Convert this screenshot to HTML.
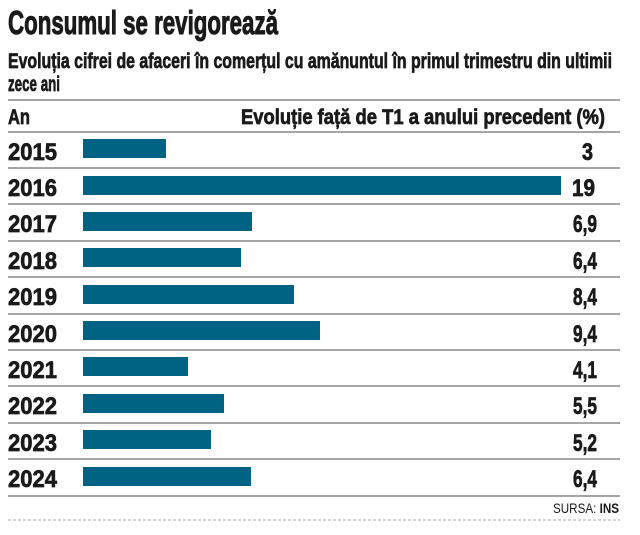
<!DOCTYPE html><html><head><style>body{margin:0;background:#fff}</style></head><body>
<svg width="640" height="530" xmlns="http://www.w3.org/2000/svg" font-family="Liberation Sans, sans-serif" font-weight="bold" fill="#1a1a1a">
<g stroke="#1a1a1a" stroke-width="0.7">
<text x="8" y="34" font-size="33" stroke-width="1" textLength="270" lengthAdjust="spacingAndGlyphs">Consumul se revigorează</text>
<text x="8" y="68" font-size="21" textLength="604" lengthAdjust="spacingAndGlyphs">Evoluția cifrei de afaceri în comerțul cu amănuntul în primul trimestru din ultimii</text>
<text x="8" y="91" font-size="21" textLength="52" lengthAdjust="spacingAndGlyphs">zece ani</text>
<text x="8" y="124" font-size="21" textLength="22" lengthAdjust="spacingAndGlyphs">An</text>
<text x="605" y="124" font-size="21" text-anchor="end" textLength="364" lengthAdjust="spacingAndGlyphs">Evoluție față de T1 a anului precedent (%)</text>
<g font-size="24">
<text x="8" y="160" textLength="49" lengthAdjust="spacingAndGlyphs">2015</text>
<text x="8" y="196" textLength="49" lengthAdjust="spacingAndGlyphs">2016</text>
<text x="8" y="232" textLength="49" lengthAdjust="spacingAndGlyphs">2017</text>
<text x="8" y="269" textLength="49" lengthAdjust="spacingAndGlyphs">2018</text>
<text x="8" y="305" textLength="49" lengthAdjust="spacingAndGlyphs">2019</text>
<text x="8" y="342" textLength="49" lengthAdjust="spacingAndGlyphs">2020</text>
<text x="8" y="378" textLength="49" lengthAdjust="spacingAndGlyphs">2021</text>
<text x="8" y="414" textLength="49" lengthAdjust="spacingAndGlyphs">2022</text>
<text x="8" y="451" textLength="49" lengthAdjust="spacingAndGlyphs">2023</text>
<text x="8" y="487" textLength="49" lengthAdjust="spacingAndGlyphs">2024</text>
<text x="582" y="160" textLength="11" lengthAdjust="spacingAndGlyphs">3</text>
<text x="572" y="196" textLength="23" lengthAdjust="spacingAndGlyphs">19</text>
<text x="573" y="232" textLength="24" lengthAdjust="spacingAndGlyphs">6,9</text>
<text x="573" y="269" textLength="24" lengthAdjust="spacingAndGlyphs">6,4</text>
<text x="573" y="305" textLength="24" lengthAdjust="spacingAndGlyphs">8,4</text>
<text x="573" y="342" textLength="24" lengthAdjust="spacingAndGlyphs">9,4</text>
<text x="573" y="378" textLength="24" lengthAdjust="spacingAndGlyphs">4,1</text>
<text x="573" y="414" textLength="24" lengthAdjust="spacingAndGlyphs">5,5</text>
<text x="573" y="451" textLength="24" lengthAdjust="spacingAndGlyphs">5,2</text>
<text x="573" y="487" textLength="24" lengthAdjust="spacingAndGlyphs">6,4</text>
</g>
</g>
<g stroke="#888" stroke-width="1.5">
<line x1="8" x2="620" y1="100" y2="100"/><line x1="8" x2="620" y1="132" y2="132"/>
<line x1="8" x2="620" y1="168" y2="168"/><line x1="8" x2="620" y1="204" y2="204"/>
<line x1="8" x2="620" y1="241" y2="241"/><line x1="8" x2="620" y1="277" y2="277"/>
<line x1="8" x2="620" y1="314" y2="314"/><line x1="8" x2="620" y1="350" y2="350"/>
<line x1="8" x2="620" y1="386" y2="386"/><line x1="8" x2="620" y1="423" y2="423"/>
<line x1="8" x2="620" y1="459" y2="459"/><line x1="8" x2="620" y1="496" y2="496"/>
</g>
<line x1="8" x2="620" y1="520" y2="520" stroke="#aaa" stroke-dasharray="3,2"/>
<g fill="#006384">
<rect x="83" y="139" width="83" height="19"/><rect x="83" y="176" width="478" height="19"/>
<rect x="83" y="212" width="169" height="19"/><rect x="83" y="248" width="158" height="19"/>
<rect x="83" y="285" width="211" height="19"/><rect x="83" y="321" width="237" height="19"/>
<rect x="83" y="357" width="105" height="19"/><rect x="83" y="394" width="141" height="19"/>
<rect x="83" y="430" width="128" height="19"/><rect x="83" y="467" width="168" height="19"/>
</g>
<text x="619" y="513" font-size="14" text-anchor="end" textLength="66" lengthAdjust="spacingAndGlyphs"><tspan font-weight="normal">SURSA: </tspan>INS</text>
</svg>
</body></html>
